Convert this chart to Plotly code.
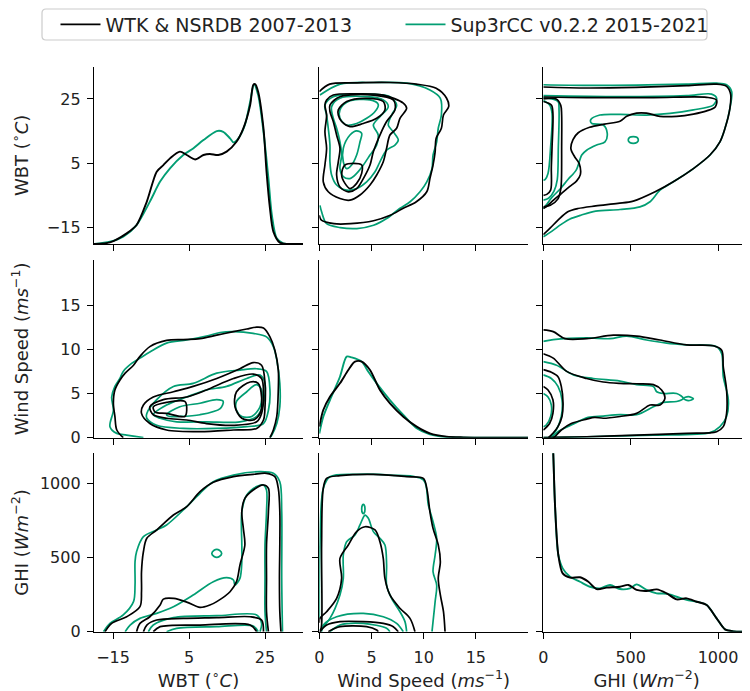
import plotly.graph_objects as go

# ---------------- styling / labels ----------------
BLACK = "#000000"
GREEN = "#029e73"
NAME_WTK = "WTK & NSRDB 2007-2013"
NAME_SUP = "Sup3rCC v0.2.2 2015-2021"
VAR_TITLES = ["WBT (<sup>∘</sup><i>C</i>)",
              "Wind Speed (<i>ms</i><sup>−1</sup>)",
              "GHI (<i>Wm</i><sup>−2</sup>)"]
COL_RANGES = [[-20, 35], [0, 20], [0, 1183]]
ROW_RANGES = [[-20, 35], [0, 20.1], [0, 1205]]
TICKS = [[-15, 5, 25], [0, 5, 10, 15], [0, 500, 1000]]

# ---------------- diagonal KDE curves (relative density, shared scale) ----------------
wbt_x_wtk = [-20, -19.7, -15.8, -11.4, -8.8, -6.1, -3.5, -1.75, 0.0, 2.6, 4.4, 6.6, 8.8, 10.5, 12.7, 14.9,
             17.5, 19.3, 21.1, 21.9, 22.4, 23.2, 24.6, 25.4, 26.3, 27.2, 28.9, 32.5, 35]
wbt_d_wtk = [0, 0, 0.009, 0.06, 0.107, 0.239, 0.408, 0.445, 0.483, 0.521, 0.502, 0.477, 0.502, 0.508, 0.502,
             0.521, 0.577, 0.652, 0.784, 0.897, 0.902, 0.859, 0.652, 0.408, 0.201, 0.07, 0.008, 0, 0]
wbt_x_sup = [-20, -15.8, -12.3, -8.8, -5.3, -2.6, 0, 3.5, 6.1, 8.8, 12.3, 14.0, 15.8, 16.7, 18.0, 19.7, 21.1,
             22.1, 23.2, 24.6, 25.9, 26.8, 28.1, 29.8, 35]
wbt_d_sup = [0, 0.013, 0.041, 0.107, 0.239, 0.352, 0.427, 0.502, 0.539, 0.586, 0.637, 0.633, 0.596, 0.573,
             0.596, 0.671, 0.803, 0.9, 0.84, 0.633, 0.37, 0.164, 0.032, 0.004, 0]

ws_x_wtk = [0, 0.38, 1.02, 1.98, 2.78, 3.42, 4.06, 4.86, 5.81, 6.77, 8.05, 9.33, 10.6, 12.2, 13.8, 20]
ws_d_wtk = [0.062, 0.156, 0.231, 0.306, 0.381, 0.428, 0.428, 0.381, 0.268, 0.193, 0.118, 0.062, 0.024, 0.006,
            0.002, 0]
ws_x_sup = [0, 0.38, 1.02, 1.98, 2.62, 3.10, 4.06, 4.7, 5.5, 6.77, 8.05, 9.33, 10.6, 12.2, 20]
ws_d_sup = [0.024, 0.118, 0.212, 0.343, 0.456, 0.452, 0.428, 0.371, 0.306, 0.212, 0.128, 0.053, 0.019, 0.004, 0]

ghi_x_wtk = [40, 57, 67, 86, 111, 153, 210, 258, 305, 363, 439, 487, 534, 591, 649, 706, 763, 820, 878, 935,
             992, 1040, 1088, 1164, 1183]
ghi_d_wtk = [1.4, 1.0, 0.71, 0.43, 0.327, 0.303, 0.305, 0.28, 0.239, 0.247, 0.252, 0.262, 0.234, 0.228, 0.237,
             0.215, 0.181, 0.187, 0.168, 0.15, 0.075, 0.013, 0.002, 0, 0]
ghi_x_sup = [40, 57, 67, 86, 111, 153, 210, 267, 324, 382, 439, 496, 534, 591, 649, 706, 763, 820, 878, 935,
             992, 1040, 1088, 1164, 1183]
ghi_d_sup = [1.4, 1.0, 0.71, 0.43, 0.355, 0.308, 0.28, 0.252, 0.243, 0.262, 0.239, 0.243, 0.265, 0.234, 0.215,
             0.213, 0.196, 0.178, 0.168, 0.15, 0.075, 0.013, 0.002, 0, 0]

# ---------------- KDE contour lines ----------------
# panel row1-col2 : x = wind speed, y = WBT
ws_wbt_wtk_open = [
    [(0, 27.3), (1.0, 29.6), (3.6, 30.0), (6.8, 30.1), (9.3, 29.6), (11.2, 28.3), (12.2, 25.2), (12.4, 22.6),
     (11.9, 20.0), (11.7, 15.9), (11.2, 12.8), (11.1, 8.6), (10.9, 4.5), (10.6, 0.3), (10.3, -3.8), (9.3, -6.9),
     (8.0, -9.0), (6.8, -11.1), (5.2, -12.8), (3.0, -13.7), (1.4, -13.7), (0.2, -12.6), (0, -11.1)],
]
ws_wbt_wtk_loops = [
    [(0.7, 24.7), (1.34, 26.2), (3.58, 26.6), (6.13, 26.2), (8.05, 23.7), (8.37, 22.1), (7.73, 19.0),
     (7.41, 15.9), (6.77, 13.8), (6.45, 9.7), (6.13, 5.5), (5.5, 1.4), (4.86, -1.7), (3.9, -4.8), (2.94, -6.4),
     (1.98, -5.9), (0.86, -3.8), (0.38, -0.7), (0.54, 4.5), (0.7, 9.7), (0.54, 14.8), (0.7, 20.0), (0.54, 23.1)],
    [(1.02, 23.1), (1.98, 25.7), (5.18, 26.2), (7.09, 24.7), (7.25, 21.6), (6.45, 18.0), (5.81, 13.8),
     (5.18, 8.6), (4.86, 4.5), (4.22, 0.3), (3.58, -2.8), (2.78, -3.8), (1.98, -2.3), (1.66, 1.4), (1.82, 5.5),
     (1.98, 9.7), (1.66, 13.8), (1.34, 18.0), (1.02, 21.1)],
    [(1.82, 21.6), (2.62, 24.2), (4.54, 25.2), (6.13, 24.2), (6.29, 21.6), (5.5, 19.0), (4.22, 17.4),
     (2.94, 16.4), (2.14, 18.0), (1.82, 20.0)],
    [(2.46, 4.5), (4.06, 4.5), (4.06, 1.9), (3.58, -1.2), (2.94, -2.8), (2.46, -1.2), (2.14, 1.4)],
]
ws_wbt_sup_open = [
    [(0.06, 26.2), (2.0, 29.6), (5.2, 30.1), (8.4, 29.9), (10.6, 27.8), (11.6, 25.2), (11.7, 20.0),
     (11.4, 15.9), (11.25, 11.7), (10.9, 7.6), (10.8, 3.4), (10.3, -0.7), (9.65, -3.8), (8.7, -6.9),
     (7.7, -9.0), (6.45, -12.1), (5.2, -14.2), (3.6, -15.2), (2.0, -14.9), (0.7, -13.7), (0.22, -10.0),
     (0.06, -8.0)],
]
ws_wbt_sup_loops = [
    [(0.54, 23.1), (1.34, 25.7), (4.22, 26.5), (6.77, 25.7), (7.41, 23.1), (6.93, 20.0), (6.61, 16.9),
     (7.09, 14.8), (7.57, 12.3), (7.25, 10.7), (6.45, 9.1), (5.81, 5.5), (5.34, 2.4), (4.54, -0.7),
     (3.58, -2.8), (2.62, -3.3), (1.66, -1.7), (1.18, 1.4), (1.02, 5.5), (1.02, 10.7), (0.86, 15.9),
     (0.7, 20.0)],
    [(1.18, 22.6), (1.98, 25.2), (4.54, 25.7), (6.13, 24.7), (6.61, 22.6), (5.81, 19.5), (5.18, 16.9),
     (5.65, 13.8), (5.5, 10.7), (4.86, 7.6), (4.22, 4.5), (3.58, 1.9), (2.94, 0.3), (2.30, 0.9), (1.98, 3.4),
     (2.14, 7.6), (1.98, 11.7), (1.66, 15.9), (1.34, 19.0)],
    [(1.98, 21.6), (2.78, 24.2), (4.86, 24.7), (5.65, 23.3), (5.34, 21.1), (4.54, 19.0), (3.58, 17.4),
     (2.62, 16.9), (1.98, 19.0)],
    [(2.30, 9.7), (2.94, 13.8), (3.58, 15.1), (4.06, 14.3), (3.90, 11.7), (3.58, 7.6), (3.10, 4.5),
     (2.62, 3.4), (2.30, 5.5)],
]

# panel row1-col3 : x = GHI, y = WBT
ghi_wbt_wtk_open = [
    [(0, 28.7), (250, 28.4), (530, 28.6), (820, 29.1), (990, 29.6), (1049, 28.9), (1072, 26.5), (1068, 22.1),
     (1040, 15.9), (1011, 11.7), (954, 7.6), (859, 3.4), (744, -0.7), (640, -3.8), (515, -6.7), (427, -7.4),
     (300, -8.2), (198, -9.0), (140, -10.0), (84, -12.6), (40, -15.0), (0, -17.1)],
    [(0, 25.6), (248, 25.4), (630, 25.4), (935, 25.5), (991, 24.7), (985, 22.6), (935, 21.3), (859, 20.3),
     (763, 19.6), (668, 19.6), (591, 20.6), (534, 20.6), (477, 19.6), (439, 18.1), (350, 17.2), (265, 16.2),
     (200, 14.5), (170, 12.4), (158, 9.5), (180, 7.0), (205, 5.0), (212, 1.5), (190, -0.5), (150, -2.2),
     (100, -4.5), (60, -6.3), (20, -8.3), (0, -9.0)],
    [(0, 25.0), (74, 25.0), (100, 23), (105, 20), (105, 10), (104, 0), (100, -3), (84, -6.0), (40, -8.0),
     (0, -8.5)],
    [(0, 24.2), (46, 23.1), (55, 20.5), (50, 10), (46, 3.9), (42, -3.3), (20, -4.6), (0, -4.9)],
]
ghi_wbt_wtk_loops = []
ghi_wbt_sup_open = [
    [(0, 29.4), (250, 29.2), (534, 29.3), (820, 29.6), (992, 29.9), (1049, 29.4), (1078, 27.3), (1068, 22.1),
     (1040, 15.9), (1011, 11.7), (954, 7.6), (859, 3.4), (744, -0.7), (668, -3.3), (611, -6.9), (553, -8.5),
     (439, -9.3), (300, -9.8), (218, -11.0), (150, -12.3), (100, -14.0), (50, -16.0), (0, -17.8)],
    [(0, 26.0), (439, 25.7), (820, 26.0), (963, 26.5), (992, 25.2), (973, 23.1), (859, 21.6), (725, 20.5),
     (591, 20.0), (439, 20.2), (324, 20.0), (271, 18.5), (277, 17.4), (343, 16.9), (366, 14.3), (353, 11.7),
     (305, 10.7), (248, 9.1), (220, 7.6), (189, 3.0), (141, 0), (95, -3), (50, -5.5), (15, -8), (0, -9)],
    [(0, 25.3), (84, 24.2), (90, 21.5), (86, 10), (80, 0), (62, -3.5), (30, -5.8), (0, -6.4)],
    [(0, 24.5), (36, 23.1), (50, 20.5), (42, 10.2), (27, 1.9), (10, 0), (0, -0.2)],
]
ghi_wbt_sup_loops = [
    [(486, 12.3), (495, 13.1), (515, 13.3), (535, 13.1), (544, 12.3), (535, 11.5), (515, 11.2), (495, 11.5)],
]

# panel row2-col1 : x = WBT, y = wind speed
wbt_ws_wtk_open = [
    [(-12.3, 0), (-14.0, 0.87), (-14.5, 2.4), (-14.9, 3.9), (-14.5, 5.4), (-13.2, 6.5), (-11.8, 7.3),
     (-9.6, 8.2), (-7.9, 9.2), (-5.3, 10.3), (-0.9, 11.0), (3.5, 11.1), (7.9, 11.2), (12.3, 11.6), (16.7, 12.0),
     (20.2, 12.3), (22.8, 12.5), (24.6, 12.4), (26.3, 11.4), (27.6, 9.9), (28.5, 7.65), (28.5, 5.4),
     (28.1, 2.4), (27.2, 0.87), (26.3, 0)],
]
wbt_ws_wtk_loops = [
    [(-7.0, 3.7), (-4.4, 4.6), (0.9, 5.2), (6.1, 5.8), (12.3, 6.7), (18.4, 7.8), (21.9, 8.5), (24.1, 8.2),
     (25.0, 6.15), (25.0, 3.5), (24.6, 2.0), (22.8, 1.05), (16.7, 0.87), (7.9, 0.68), (-0.9, 0.87), (-5.3, 1.6),
     (-7.5, 2.75)],
    [(-5.3, 3.5), (-1.75, 4.3), (4.4, 4.6), (9.6, 5.4), (16.7, 6.7), (21.9, 7.2), (24.1, 6.7), (24.6, 5.0),
     (24.1, 2.75), (22.8, 1.8), (16.7, 1.4), (9.6, 1.6), (4.4, 2.0), (-0.9, 2.2), (-4.4, 2.6)],
    [(-4.4, 3.5), (-0.9, 4.0), (3.9, 4.1), (4.4, 3.1), (3.9, 2.4), (-0.9, 2.75), (-3.9, 2.9)],
    [(17.5, 5.2), (21.1, 6.3), (23.2, 6.15), (24.1, 4.6), (23.7, 2.75), (21.9, 2.0), (18.9, 2.2), (17.1, 3.5)],
]
wbt_ws_sup_open = [
    [(-7.0, 0), (-11.4, 0.3), (-14.0, 0.49), (-15.8, 1.25), (-14.9, 3.1), (-15.35, 4.6), (-14.5, 5.8),
     (-13.2, 6.7), (-12.3, 7.5), (-10.1, 8.4), (-7.9, 9.0), (-5.3, 9.7), (-0.9, 10.7), (4.4, 11.05),
     (9.6, 11.5), (13.2, 11.9), (16.7, 12.0), (21.9, 11.8), (25.4, 11.4), (27.2, 10.3), (28.1, 8.8),
     (28.9, 6.15), (28.9, 3.5), (28.1, 1.6), (26.8, 0.3), (26.3, 0)],
]
wbt_ws_sup_loops = [
    [(-6.1, 2.75), (-3.5, 4.3), (0.9, 5.8), (6.1, 6.15), (12.3, 7.3), (18.4, 7.65), (22.8, 7.8), (25.4, 7.5),
     (26.3, 5.4), (25.9, 3.1), (24.6, 1.6), (20.2, 1.25), (12.3, 1.05), (3.5, 1.05), (-3.5, 1.4), (-6.1, 2.2)],
    [(-4.4, 2.6), (-0.9, 3.7), (4.4, 4.6), (9.6, 5.4), (14.9, 5.8), (20.2, 6.7), (23.7, 7.1), (25.0, 6.15),
     (24.6, 3.9), (22.8, 2.4), (18.4, 1.8), (9.6, 1.8), (1.75, 1.8), (-2.6, 2.2)],
    [(-0.9, 2.6), (2.6, 3.5), (7.9, 3.9), (12.3, 4.3), (14.0, 4.1), (13.2, 3.3), (7.9, 2.6), (2.6, 2.4),
     (0, 2.4)],
    [(17.5, 4.1), (20.2, 5.2), (22.8, 6.0), (24.1, 5.4), (23.7, 3.5), (21.5, 2.4), (18.9, 2.4), (17.5, 3.1)],
]

# panel row2-col3 : x = GHI, y = wind speed
ghi_ws_wtk_open = [
    [(0, 12.2), (57, 12.0), (124, 11.2), (248, 11.2), (401, 11.6), (534, 11.5), (668, 11.05), (820, 10.5),
     (973, 10.4), (1021, 9.9), (1030, 8.0), (1049, 5.4), (1049, 2.75), (1030, 1.25), (992, 0.68), (820, 0.49),
     (534, 0.3), (248, 0.11), (57, 0.04), (0, 0)],
    [(0, 9.5), (57, 9.0), (134, 7.5), (248, 6.7), (343, 6.3), (439, 6.15), (534, 6.1), (630, 6.0), (677, 5.4),
     (696, 4.45), (668, 3.7), (611, 3.7), (534, 2.75), (439, 2.4), (343, 2.2), (294, 2.3), (248, 2.1),
     (160, 1.6), (103, 0.87), (65, 0.1), (55, 0)],
    [(0, 7.7), (46, 7.4), (84, 6.9), (103, 5.8), (113, 3.9), (107, 2.4), (84, 1.25), (55, 0.5), (30, 0)],
    [(0, 5.8), (27, 5.4), (55, 4.3), (55, 2.75), (36, 1.6), (0, 0.87)],
]
ghi_ws_wtk_loops = []
ghi_ws_sup_open = [
    [(0, 10.9), (57, 11.1), (248, 11.3), (382, 11.2), (477, 11.5), (591, 11.05), (706, 10.7), (820, 10.5),
     (992, 10.3), (1021, 9.5), (1030, 6.9), (1059, 4.3), (1049, 2.4), (1011, 1.25), (954, 0.57), (630, 0.3),
     (248, 0.11), (0, 0)],
    [(0, 8.6), (76, 8.2), (172, 7.1), (286, 6.7), (439, 6.4), (534, 6.0), (630, 5.8), (649, 5.2), (687, 5.0),
     (763, 5.0), (801, 4.45), (763, 4.1), (687, 4.0), (630, 3.5), (534, 2.6), (439, 2.6), (343, 2.45),
     (256, 2.3), (160, 1.43), (84, 0.68), (46, 0)],
    [(0, 7.1), (46, 6.7), (84, 5.8), (107, 4.3), (103, 2.4), (74, 0.87), (36, 0)],
    [(0, 5.0), (27, 4.6), (46, 3.7), (42, 2.4), (17, 1.44), (0, 1.24)],
]
ghi_ws_sup_loops = [
    [(801, 4.45), (830, 4.65), (859, 4.4), (830, 4.2)],
]

# panel row3-col1 : x = WBT, y = GHI
wbt_ghi_wtk_open = [
    [(-17.1, 0), (-15.35, 56), (-11.4, 101), (-7.9, 169), (-7.5, 270), (-7.5, 405), (-7.0, 540), (-6.1, 631),
     (-3.5, 687), (0.9, 788), (4.4, 845), (7.9, 946), (11.4, 1009), (16.7, 1047), (21.9, 1063), (25.4, 1070),
     (27.6, 1047), (28.5, 968), (28.9, 811), (28.9, 586), (28.8, 360), (28.9, 135), (29.2, 0)],
    [(-8.8, 0), (-7.9, 56), (-5.3, 101), (-2.6, 180), (-1.75, 220), (1.0, 225), (4.4, 200), (7.9, 164),
     (10.5, 180), (12.3, 203), (15.8, 270), (17.5, 338), (18.4, 450), (19.7, 586), (19.3, 698), (18.9, 811),
     (19.7, 900), (21.9, 957), (24.6, 991), (25.9, 968), (25.9, 811), (25.4, 586), (25.4, 360), (25.4, 135),
     (25.9, 0)],
    [(-7.0, 0), (-6.1, 45), (-3.5, 79), (3.5, 90), (12.3, 95), (21.1, 101), (24.1, 79), (24.6, 0)],
    [(-4.4, 0), (-2.6, 34), (7.9, 45), (21.1, 45), (22.8, 0)],
]
wbt_ghi_wtk_loops = []
wbt_ghi_sup_open = [
    [(-17.5, 0), (-15.8, 56), (-12.3, 113), (-9.6, 203), (-9.2, 315), (-9.2, 473), (-8.8, 540), (-7.0, 642),
     (-3.5, 687), (-0.9, 721), (3.5, 822), (7.9, 935), (11.4, 1013), (16.7, 1058), (23.7, 1081), (27.2, 1070),
     (28.9, 1013), (29.4, 811), (29.4, 360), (29.6, 0)],
    [(-11.8, 0), (-10.5, 45), (-7.9, 90), (-3.5, 124), (0.9, 169), (6.1, 248), (11.4, 338), (14.9, 365),
     (16.7, 349), (17.1, 315), (18.4, 360), (18.9, 473), (18.9, 586), (18.9, 811), (20.2, 923), (22.8, 980),
     (24.6, 991), (25.4, 957), (25.4, 811), (25.0, 586), (25.0, 360), (25.0, 135), (25.4, 0)],
    [(-5.7, 0), (-4.4, 45), (0.9, 95), (12.3, 108), (22.8, 113), (24.1, 56), (23.7, 0)],
    [(-0.9, 0), (1.75, 23), (12.3, 34), (21.9, 38), (23.2, 0)],
]
wbt_ghi_sup_loops = [
    [(11.0, 529), (11.6, 550), (12.3, 556), (13.0, 550), (13.6, 529), (13.0, 508), (12.3, 502), (11.6, 508)],
]

# panel row3-col2 : x = wind speed, y = GHI
ws_ghi_wtk_open = [
    [(0.1, 0), (0.22, 45), (0.22, 586), (0.38, 968), (0.7, 1036), (1.98, 1054), (5.18, 1063), (8.37, 1047),
     (9.97, 1036), (10.3, 968), (10.6, 811), (10.9, 698), (11.4, 586), (11.6, 473), (11.4, 360), (11.6, 248),
     (11.9, 135), (12.05, 0)],
    [(0, 60), (0.06, 90), (0.7, 135), (1.66, 225), (2.14, 360), (1.98, 495), (2.78, 586), (3.58, 676),
     (4.38, 709), (5.34, 687), (5.81, 608), (6.13, 495), (6.29, 360), (6.77, 248), (7.73, 158), (8.69, 90),
     (9.17, 0)],
    [(0.06, 0), (0.7, 45), (1.98, 68), (4.22, 68), (6.13, 56), (7.09, 34), (7.57, 0)],
    [(0.86, 0), (1.98, 34), (4.54, 34), (5.5, 11), (5.65, 0)],
]
ws_ghi_wtk_loops = []
ws_ghi_sup_open = [
    [(0, 90), (0.06, 586), (0.38, 968), (1.02, 1047), (3.58, 1063), (6.77, 1058), (9.97, 1025), (10.45, 856),
     (10.9, 743), (11.25, 631), (11.1, 518), (10.9, 405), (11.25, 315), (11.1, 203), (10.9, 68), (10.8, 0)],
    [(0.06, 11), (1.02, 90), (1.98, 248), (2.30, 360), (2.30, 518), (2.62, 608), (3.42, 653), (3.90, 721),
     (4.38, 788), (4.7, 766), (5.18, 676), (5.81, 631), (6.29, 586), (6.45, 450), (6.45, 315), (6.93, 225),
     (7.73, 135), (8.21, 68), (8.37, 0)],
    [(0.22, 0), (0.38, 45), (1.66, 101), (4.22, 124), (6.13, 101), (7.41, 56), (8.05, 0)],
    [(1.02, 0), (1.98, 45), (4.22, 56), (6.45, 23), (6.77, 0)],
]
ws_ghi_sup_loops = [
    [(4.06, 829), (4.14, 856), (4.22, 860), (4.30, 856), (4.38, 829), (4.30, 802), (4.22, 798), (4.14, 802)],
]

# ---------------- geometry (window pixels; the page body adds an 8px offset) ----------------
SW, SH = 750, 691
OFF = 8
W, H = SW - OFF, SH - OFF


def xdom(a, b):
    return [(a - OFF) / W, min(1.0, (b - OFF) / W)]


def ydom(top, bottom):
    return [(SH - bottom) / H, (SH - top) / H]


COL_DOM = [xdom(94, 303), xdom(319.3, 528), xdom(543.3, 750)]
ROW_DOM = [ydom(66.7, 244), ydom(260, 437.7), ydom(453.3, 631.7)]

fig = go.Figure()


def axid(k, kind):
    return kind if k == 1 else f"{kind}{k}"


def add_lines(r, c, lines, color, closed):
    k = 3 * r + c + 1
    for pts in lines:
        xs = [p[0] for p in pts]
        ys = [p[1] for p in pts]
        if closed:
            xs.append(xs[0])
            ys.append(ys[0])
        fig.add_trace(go.Scatter(x=xs, y=ys, mode="lines",
                                 line=dict(color=color, width=1.7, shape="spline", smoothing=0.9),
                                 xaxis=axid(k, "x"), yaxis=axid(k, "y"),
                                 showlegend=False, hoverinfo="skip"))


panels = [
    (0, 1, ws_wbt_sup_open, ws_wbt_sup_loops, ws_wbt_wtk_open, ws_wbt_wtk_loops),
    (0, 2, ghi_wbt_sup_open, ghi_wbt_sup_loops, ghi_wbt_wtk_open, ghi_wbt_wtk_loops),
    (1, 0, wbt_ws_sup_open, wbt_ws_sup_loops, wbt_ws_wtk_open, wbt_ws_wtk_loops),
    (1, 2, ghi_ws_sup_open, ghi_ws_sup_loops, ghi_ws_wtk_open, ghi_ws_wtk_loops),
    (2, 0, wbt_ghi_sup_open, wbt_ghi_sup_loops, wbt_ghi_wtk_open, wbt_ghi_wtk_loops),
    (2, 1, ws_ghi_sup_open, ws_ghi_sup_loops, ws_ghi_wtk_open, ws_ghi_wtk_loops),
]
for r, c, so, sl, wo, wl in panels:
    add_lines(r, c, so, GREEN, False)
    add_lines(r, c, sl, GREEN, True)
    add_lines(r, c, wo, BLACK, False)
    add_lines(r, c, wl, BLACK, True)

# empty traces so that the diagonal cells get their (row/column) axes drawn
for i in range(3):
    k = 4 * i + 1
    fig.add_trace(go.Scatter(x=[None], y=[None], mode="lines", xaxis=axid(k, "x"), yaxis=axid(k, "y"),
                             showlegend=False, hoverinfo="skip"))

diag = [
    (0, wbt_x_sup, wbt_d_sup, wbt_x_wtk, wbt_d_wtk),
    (1, ws_x_sup, ws_d_sup, ws_x_wtk, ws_d_wtk),
    (2, ghi_x_sup, ghi_d_sup, ghi_x_wtk, ghi_d_wtk),
]
for i, xs_s, ds_s, xs_w, ds_w in diag:
    for xs, ds, color, name, rank in [(xs_s, ds_s, GREEN, NAME_SUP, 2), (xs_w, ds_w, BLACK, NAME_WTK, 1)]:
        fig.add_trace(go.Scatter(x=xs, y=ds, mode="lines", name=name,
                                 line=dict(color=color, width=1.9, shape="spline", smoothing=0.8),
                                 xaxis=f"x{10 + i}", yaxis=f"y{10 + i}",
                                 showlegend=(i == 0), legendrank=rank, hoverinfo="skip"))

# rounded legend frame (matplotlib style)
bx0, bx1 = (42 - OFF) / W, (707 - OFF) / W
by1, by0 = (SH - 9) / H, (SH - 40) / H
rx, ry = 4 / W, 4 / H
frame_path = (f"M{bx0 + rx},{by1} L{bx1 - rx},{by1} Q{bx1},{by1} {bx1},{by1 - ry} "
              f"L{bx1},{by0 + ry} Q{bx1},{by0} {bx1 - rx},{by0} L{bx0 + rx},{by0} "
              f"Q{bx0},{by0} {bx0},{by0 + ry} L{bx0},{by1 - ry} Q{bx0},{by1} {bx0 + rx},{by1} Z")

FONT = "DejaVu Sans"
layout = dict(
    width=W, height=H, margin=dict(l=0, r=0, t=0, b=0, autoexpand=False),
    paper_bgcolor="white", plot_bgcolor="white",
    font=dict(family=FONT, size=16, color="black"),
    legend=dict(orientation="h", x=392.5 / W, xanchor="center", y=(SH - 24.5) / H, yanchor="middle",
                borderwidth=0, bgcolor="rgba(0,0,0,0)",
                font=dict(family=FONT, size=19, color="#222222"), itemwidth=40,
                entrywidth=290, entrywidthmode="pixels", traceorder="normal"),
    shapes=[dict(type="path", xref="paper", yref="paper", path=frame_path,
                 line=dict(color="#cccccc", width=1.2), fillcolor="rgba(0,0,0,0)", layer="above")],
)
axis_common = dict(showline=True, linecolor="black", linewidth=1.4, ticks="outside", ticklen=6,
                   tickwidth=1.3, tickcolor="black", showgrid=False, zeroline=False, mirror=False,
                   automargin=False, tickfont=dict(family=FONT, size=16, color="#222222"))
for r in range(3):
    for c in range(3):
        k = 3 * r + c + 1
        xa = dict(axis_common, domain=COL_DOM[c], range=COL_RANGES[c], anchor=axid(k, "y"),
                  tickmode="array", tickvals=TICKS[c], showticklabels=(r == 2), ticklabelstandoff=5)
        ya = dict(axis_common, domain=ROW_DOM[r], range=ROW_RANGES[r], anchor=axid(k, "x"),
                  tickmode="array", tickvals=TICKS[r], showticklabels=(c == 0), ticklabelstandoff=3)
        if r == 2:
            xa["title"] = dict(text=VAR_TITLES[c], standoff=6,
                               font=dict(family=FONT, size=18, color="#222222"))
        if c == 0:
            ya["title"] = dict(text=VAR_TITLES[r], standoff=[16, 31, 12][r],
                               font=dict(family=FONT, size=18, color="#222222"))
        layout["xaxis" if k == 1 else f"xaxis{k}"] = xa
        layout["yaxis" if k == 1 else f"yaxis{k}"] = ya
# independent hidden axes for the diagonal density curves (shared density scale)
for i in range(3):
    layout[f"xaxis{10 + i}"] = dict(domain=COL_DOM[i], range=COL_RANGES[i], anchor=f"y{10 + i}",
                                    visible=False, showgrid=False, zeroline=False, automargin=False)
    layout[f"yaxis{10 + i}"] = dict(domain=ROW_DOM[i], range=[0, 1], anchor=f"x{10 + i}",
                                    visible=False, showgrid=False, zeroline=False, automargin=False)

fig.update_layout(**layout)
fig.write_html("out.html")
